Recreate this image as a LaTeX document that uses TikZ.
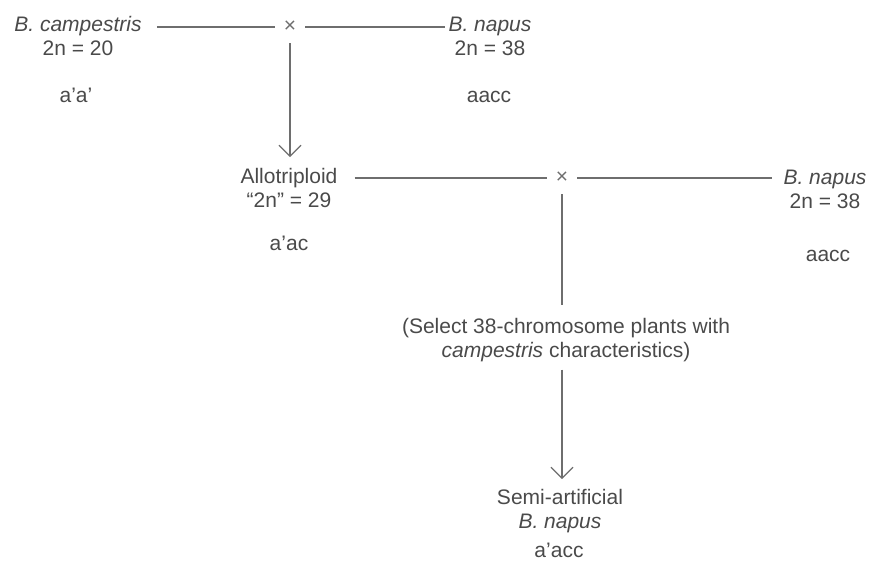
\documentclass[tikz,border=0pt]{standalone}
\usepackage{fontspec}
\setmainfont{Liberation Sans}
\usetikzlibrary{arrows.meta}
\definecolor{ink}{HTML}{4A4A4A}
\definecolor{rule}{HTML}{6E6E6E}
\begin{document}
\begin{tikzpicture}[x=1pt,y=-1pt,
  every node/.style={inner sep=0pt, text=ink,
    font=\fontsize{21}{23.5}\selectfont},
  label/.style={align=center, anchor=base},
  genome/.style={anchor=base},
  cross/.style={minimum width=30pt, minimum height=32pt,
    font=\fontsize{21}{21}\selectfont, text=rule},
  link/.style={draw=rule, line width=1.2pt},
  descent/.style={link, -{Straight Barb[length=11pt,width=22pt,line width=1.2pt]}}]
\useasboundingbox (0,0) rectangle (870,562);

% first cross (label anchors sit on the baseline of the last line)
\node[label] (camp) at (78,55) {\textit{B. campestris}\\2n = 20};
\node[genome] (campg) at (76,102) {a’a’};
\node[label] (napA) at (490,55) {\textit{B. napus}\\2n = 38};
\node[genome] (napAg) at (489,102) {aacc};
\node[cross] (x1) at (290,27) {×};

% second cross
\node[label] (allo) at (289,207) {Allotriploid\\“2n” = 29};
\node[genome] (allog) at (289,250) {a’ac};
\node[label] (napB) at (825,208) {\textit{B. napus}\\2n = 38};
\node[genome] (napBg) at (828,261) {aacc};
\node[cross] (x2) at (562,178) {×};

% selection and result
\node[label] (select) at (566,357) {(Select 38-chromosome plants with\\\textit{campestris} characteristics)};
\node[label] (semi) at (560,528) {Semi-artificial\\\textit{B. napus}};
\node[genome] (semig) at (559,557) {a’acc};

% connectors
\draw[link, shorten <=15pt] (camp.east |- x1.west) -- (x1.west);
\draw[link, shorten >=3pt] (x1.east) -- (napA.west |- x1.east);
\draw[descent, shorten >=11pt] (x1.south) -- (x1.south |- allo.north);
\draw[link, shorten <=17pt] (allo.east |- x2.west) -- (x2.west);
\draw[link, shorten >=11pt] (x2.east) -- (napB.west |- x2.east);
\draw[link, shorten >=13pt] (x2.south) -- (x2.south |- select.north);
\draw[descent, shorten <=8pt, shorten >=10pt] (x2 |- select.south) -- (x2 |- semi.north);
\end{tikzpicture}
\end{document}
